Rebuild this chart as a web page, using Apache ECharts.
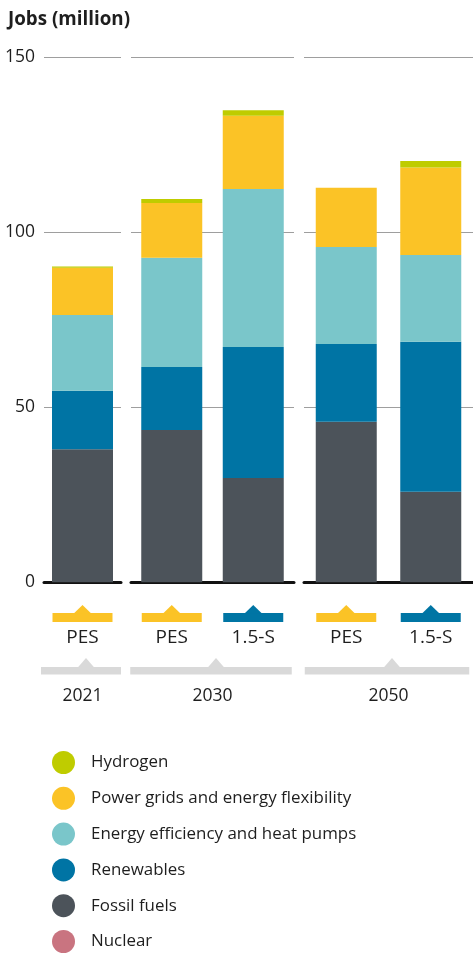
<!DOCTYPE html>
<html>
<head>
<meta charset="utf-8">
<script src="https://cdn.jsdelivr.net/npm/echarts@6/dist/echarts.min.js"></script>
<style>
  html, body { margin: 0; padding: 0; background: #fff; }
  #chart { width: 473px; height: 953px; }
</style>
</head>
<body>
<div id="chart"></div>
<script>
// years, and the scenarios shown under each year
const years = ['2021', '2030', '2050'];
const scenarios = [['PES'], ['PES', '1.5-S'], ['PES', '1.5-S']];

// values per bar, in order: 2021 PES, 2030 PES, 2030 1.5-S, 2050 PES, 2050 1.5-S
const fossil = [38.0, 43.5, 29.8, 45.9, 25.9];
const renewables = [16.7, 18.0, 37.4, 22.2, 42.8];
const efficiency = [21.7, 31.2, 45.2, 27.7, 24.8];
const powerGrids = [13.5, 15.7, 20.9, 16.9, 25.0];
const hydrogen = [0.3, 1.1, 1.6, 0, 1.9];
const nuclear = [0, 0, 0, 0, 0];

const yTicks = [0, 50, 100, 150];

const seriesDefs = [
  {name: 'Fossil fuels', data: fossil, color: '#4c535a'},
  {name: 'Renewables', data: renewables, color: '#0074a4'},
  {name: 'Energy efficiency and heat pumps', data: efficiency, color: '#7ac6ca'},
  {name: 'Power grids and energy flexibility', data: powerGrids, color: '#fbc326'},
  {name: 'Hydrogen', data: hydrogen, color: '#bfcc00'},
  {name: 'Nuclear', data: nuclear, color: '#c97480'}
];
const legendOrder = ['Hydrogen', 'Power grids and energy flexibility',
  'Energy efficiency and heat pumps', 'Renewables', 'Fossil fuels', 'Nuclear'];
const scenColor = {'PES': '#fbc326', '1.5-S': '#0075a4'};

const font = '"Open Sans", Roboto, sans-serif';
const txt = '#1e1e1e';

// one grid per year so the gridlines break between groups
const gridBoxes = [
  {left: 44, width: 77},
  {left: 131, width: 163},
  {left: 304, width: 169}
];

// offset of each group's first bar in the flat arrays
const starts = [];
let n = 0;
scenarios.forEach(s => { starts.push(n); n += s.length; });

const grid = gridBoxes.map(b => ({left: b.left, width: b.width, top: 57.3, height: 525}));

const xAxis = years.map((y, g) => ({
  type: 'category',
  gridIndex: g,
  data: scenarios[g],
  axisTick: {show: false},
  axisLine: {lineStyle: {color: '#111', width: 3}},
  axisLabel: {margin: 46, fontSize: 19, color: txt, fontFamily: font},
  name: y,
  nameLocation: 'middle',
  nameGap: 105,
  nameTextStyle: {fontSize: 17.5, color: txt, fontFamily: font}
}));

const yAxis = years.map((y, g) => ({
  type: 'value',
  gridIndex: g,
  min: yTicks[0],
  max: yTicks[yTicks.length - 1],
  interval: 50,
  axisLine: {show: false},
  axisTick: {show: false},
  axisLabel: {show: g === 0, margin: 9, fontSize: 17.5, color: txt, fontFamily: font},
  splitLine: {lineStyle: {color: '#9e9e9e', width: 1}}
}));

const series = [];
years.forEach((y, g) => {
  seriesDefs.forEach(d => {
    series.push({
      name: d.name,
      type: 'bar',
      stack: 'g' + g,
      xAxisIndex: g,
      yAxisIndex: g,
      barWidth: 61,
      itemStyle: {color: d.color},
      emphasis: {disabled: true},
      data: d.data.slice(starts[g], starts[g] + scenarios[g].length)
    });
  });
  // brackets under the axis
  series.push({
    type: 'custom',
    xAxisIndex: g,
    yAxisIndex: g,
    silent: true,
    clip: false,
    data: scenarios[g].map((s, i) => [i, 0]),
    renderItem: function (params, api) {
      const i = api.value(0);
      const p = api.coord([i, 0]);
      const col = scenColor[scenarios[g][i]];
      const children = [
        {type: 'rect', shape: {x: p[0] - 30, y: p[1] + 30.7, width: 60, height: 9}, style: {fill: col}},
        {type: 'polygon', shape: {points: [[p[0] - 8.5, p[1] + 31], [p[0], p[1] + 22.7], [p[0] + 8.5, p[1] + 31]]}, style: {fill: col}}
      ];
      if (i === 0) {
        const last = api.coord([scenarios[g].length - 1, 0]);
        const x0 = p[0] - 41.5, x1 = last[0] + 38.5;
        const mid = (x0 + x1) / 2 + 5;
        children.push(
          {type: 'rect', shape: {x: x0, y: p[1] + 84.7, width: x1 - x0, height: 7.5}, style: {fill: '#d9d9d9'}},
          {type: 'polygon', shape: {points: [[mid - 8, p[1] + 85], [mid, p[1] + 75.7], [mid + 8, p[1] + 85]]}, style: {fill: '#d9d9d9'}}
        );
      }
      return {type: 'group', children: children};
    }
  });
});

const chart = echarts.init(document.getElementById('chart'));
chart.setOption({
  animation: false,
  title: {
    text: 'Jobs (million)',
    left: 3,
    top: 5,
    textStyle: {fontSize: 18.8, fontWeight: 'bold', color: txt, fontFamily: font}
  },
  legend: {
    orient: 'vertical',
    left: 47,
    top: 746,
    height: 220,
    icon: 'circle',
    itemWidth: 45,
    itemHeight: 23,
    itemGap: 12.8,
    selectedMode: false,
    data: legendOrder,
    textStyle: {fontSize: 16.9, color: txt, fontFamily: font}
  },
  grid: grid,
  xAxis: xAxis,
  yAxis: yAxis,
  series: series
});
</script>
</body>
</html>
